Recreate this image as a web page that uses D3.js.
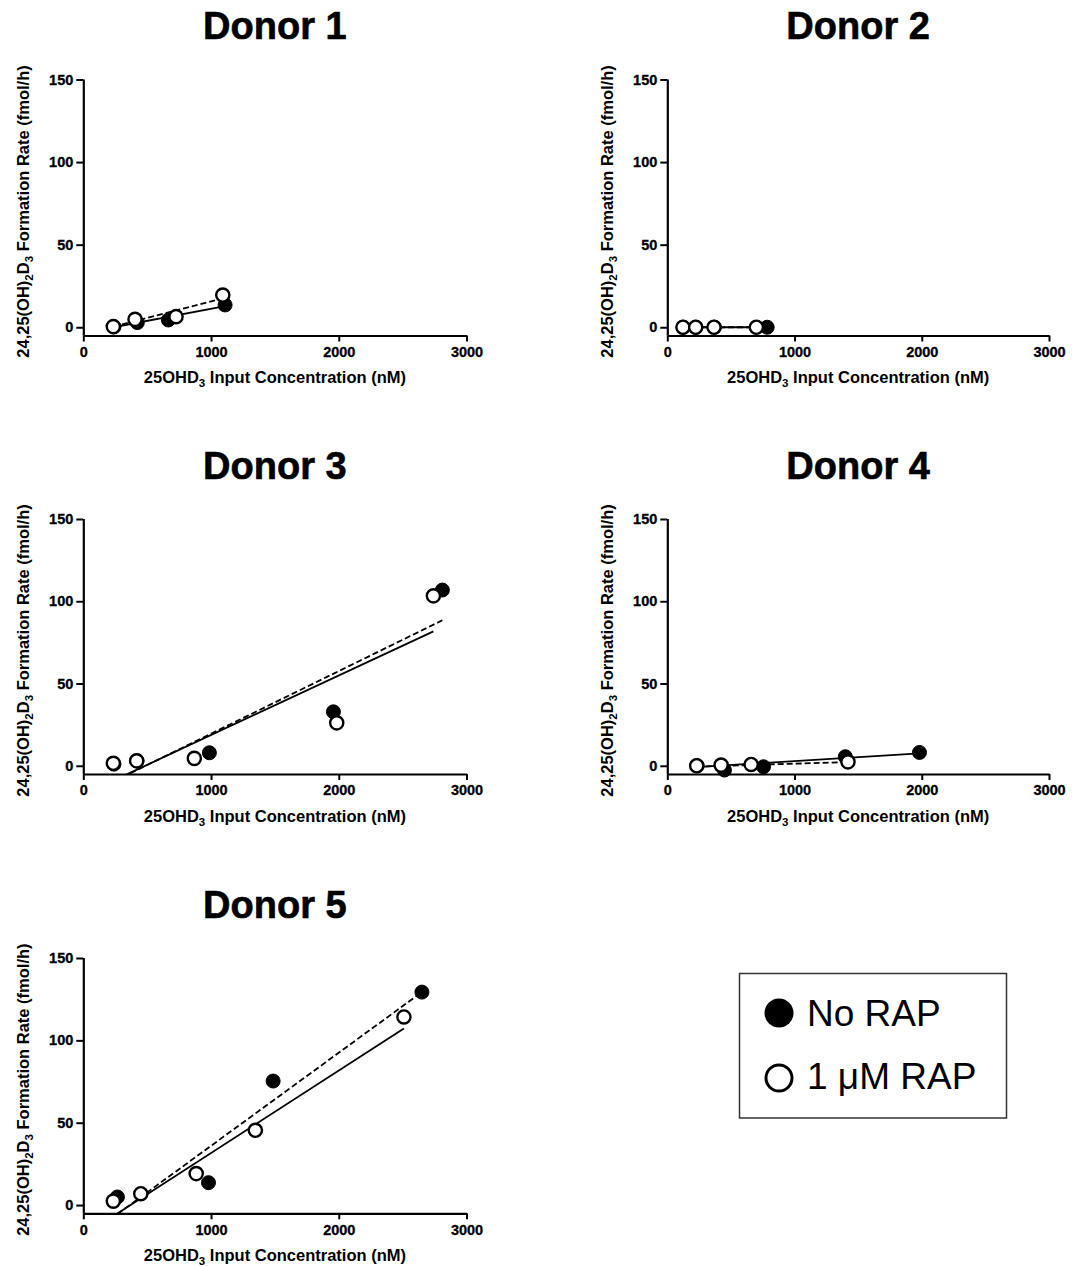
<!DOCTYPE html>
<html>
<head>
<meta charset="utf-8">
<script src="https://cdn.jsdelivr.net/npm/d3@7"></script>
<style>
  html, body { margin: 0; padding: 0; background: #fff; }
  svg { display: block; font-family: "Liberation Sans", Arial, sans-serif; }
</style>
</head>
<body>
<svg id="chart" width="1072" height="1266"></svg>
<script>
// ---------------- DATA ----------------
const donors = ["Donor 1", "Donor 2", "Donor 3", "Donor 4", "Donor 5"];

// No RAP (filled circles)
const noRapX = [
  [240, 423, 666, 1110],
  [125, 225, 370, 785],
  [240, 420, 987, 1958, 2811],
  [235, 449, 756, 1399, 1982],
  [267, 980, 1486, 2651]
];
const noRapY = [
  [0.2, 2.8, 4.4, 13.5],
  [0, 0, 0, 0],
  [1.0, 3.0, 7.9, 32.8, 106.8],
  [0.0, -2.6, -0.6, 5.5, 8.1],
  [4.9, 13.6, 75.3, 129.3]
];

// 1 µM RAP (open circles)
const rapX = [
  [235, 405, 726, 1092],
  [123, 223, 367, 700],
  [235, 418, 869, 1984, 2741],
  [231, 423, 659, 1420],
  [235, 450, 884, 1347, 2510]
];
const rapY = [
  [0.4, 4.8, 6.4, 19.5],
  [0, 0, 0, 0],
  [1.5, 3.0, 4.5, 26.1, 103.3],
  [0.0, 0.4, 0.8, 2.4],
  [2.4, 6.9, 19.1, 45.4, 114.2]
];

// Linear fit lines: [slope, intercept, xFrom, xTo]
const fitDashed = [
  [0.0198, -4.2, 235, 1092],
  [0, 0, 123, 700],
  [0.03806, -18.57, 240, 2811],
  [0.00227, -1.0, 231, 1420],
  [0.05655, -20.6, 267, 2651]
];
const fitSolid = [
  [0.01463, -3.44, 235, 1110],
  [0, 0, 123, 785],
  [0.03619, -17.53, 235, 2741],
  [0.00472, -1.85, 231, 1982],
  [0.0501, -18.5, 235, 2510]
];

const xTicks = [0, 1000, 2000, 3000];
const yTicks = [0, 50, 100, 150];
const xDomain = [0, 3000];
const yDomain = [-5, 150];
const legendLabels = ["No RAP", "1 \u03BCM RAP"];

// ---------------- LAYOUT ----------------
const svg = d3.select("#chart");
const colLeft = [83.3, 667.3];
const colRight = [466.5, 1049];
const rowTop = [79.5, 519, 958];
const rowBottom = [335.5, 774, 1213.3];
const fmt = d3.format("d");

donors.forEach((name, i) => {
  const col = i % 2, row = Math.floor(i / 2);
  const x = d3.scaleLinear().domain(xDomain).range([colLeft[col], colRight[col]]);
  const y = d3.scaleLinear().domain(yDomain).range([rowBottom[row], rowTop[row]]);
  const g = svg.append("g");
  const cx = (colLeft[col] + colRight[col]) / 2;

  // title
  g.append("text")
    .attr("x", cx).attr("y", rowTop[row] - 40.5)
    .attr("text-anchor", "middle")
    .attr("font-size", 38).attr("font-weight", "bold")
    .attr("stroke", "#000").attr("stroke-width", 0.6)
    .text(name);

  // clip
  const clipId = "clip" + i;
  g.append("clipPath").attr("id", clipId)
    .append("rect")
    .attr("x", x(xDomain[0])).attr("y", y(yDomain[1]) - 20)
    .attr("width", x(xDomain[1]) - x(xDomain[0]))
    .attr("height", y(yDomain[0]) - y(yDomain[1]) + 20);

  // axes
  const yAxis = d3.axisLeft(y).tickValues(yTicks).tickFormat(fmt).tickSize(7).tickPadding(3).tickSizeOuter(0);
  const xAxis = d3.axisBottom(x).tickValues(xTicks).tickFormat(fmt).tickSize(6).tickPadding(5).tickSizeOuter(0);

  const ga = g.append("g").attr("transform", `translate(${x(0)},0)`).call(yAxis);
  const gx = g.append("g").attr("transform", `translate(0,${y(yDomain[0])})`).call(xAxis);
  [ga, gx].forEach(a => {
    a.select(".domain").attr("stroke", "#000").attr("stroke-width", 2.2);
    a.selectAll(".tick line").attr("stroke", "#000").attr("stroke-width", 2);
    a.selectAll(".tick text").attr("fill", "#000")
      .attr("font-size", 14.5).attr("font-weight", "bold")
      .attr("stroke", "#000").attr("stroke-width", 0.3)
      .attr("font-family", '"Liberation Sans", Arial, sans-serif');
  });
  ga.select(".domain").attr("d", `M0.5,${y(yDomain[1])}V${y(yDomain[0])}`);

  // x label
  const xl = g.append("text")
    .attr("x", cx).attr("y", rowBottom[row] + 47.5)
    .attr("text-anchor", "middle")
    .attr("font-size", 16.5).attr("font-weight", "bold");
  xl.append("tspan").text("25OHD");
  xl.append("tspan").attr("dy", 4).attr("font-size", 11.5).text("3");
  xl.append("tspan").attr("dy", -4).text(" Input Concentration (nM)");

  // y label
  const ly = (rowTop[row] + rowBottom[row]) / 2 + 4;
  const yl = g.append("text")
    .attr("transform", `translate(${colLeft[col] - 54},${ly}) rotate(-90)`)
    .attr("text-anchor", "middle")
    .attr("font-size", 16.5).attr("font-weight", "bold");
  yl.append("tspan").text("24,25(OH)");
  yl.append("tspan").attr("dy", 4).attr("font-size", 11.5).text("2");
  yl.append("tspan").attr("dy", -4).text("D");
  yl.append("tspan").attr("dy", 4).attr("font-size", 11.5).text("3");
  yl.append("tspan").attr("dy", -4).text(" Formation Rate (fmol/h)");

  // fit lines
  const fg = g.append("g").attr("clip-path", `url(#${clipId})`);
  const line = d3.line().x(d => x(d[0])).y(d => y(d[1]));
  const seg = f => [[f[2], f[0] * f[2] + f[1]], [f[3], f[0] * f[3] + f[1]]];
  fg.append("path").datum(seg(fitSolid[i]))
    .attr("d", line).attr("fill", "none").attr("stroke", "#000").attr("stroke-width", 1.8);
  fg.append("path").datum(seg(fitDashed[i]))
    .attr("d", line).attr("fill", "none").attr("stroke", "#000").attr("stroke-width", 1.8)
    .attr("stroke-dasharray", "6,3");

  // points
  const filled = noRapX[i].map((v, k) => [v, noRapY[i][k]]);
  const open = rapX[i].map((v, k) => [v, rapY[i][k]]);
  g.append("g").selectAll("circle").data(filled).join("circle")
    .attr("cx", d => x(d[0])).attr("cy", d => y(d[1])).attr("r", 7)
    .attr("fill", "#000").attr("stroke", "#000").attr("stroke-width", 1);
  g.append("g").selectAll("circle").data(open).join("circle")
    .attr("cx", d => x(d[0])).attr("cy", d => y(d[1])).attr("r", 6.6)
    .attr("fill", "#fff").attr("stroke", "#000").attr("stroke-width", 2.4);
});

// ---------------- LEGEND ----------------
const lg = svg.append("g");
lg.append("rect").attr("x", 739.5).attr("y", 973.5).attr("width", 267).attr("height", 144.5)
  .attr("fill", "#fff").attr("stroke", "#333").attr("stroke-width", 1.5);
lg.append("circle").attr("cx", 779).attr("cy", 1013).attr("r", 14.5).attr("fill", "#000");
lg.append("circle").attr("cx", 779).attr("cy", 1078).attr("r", 13).attr("fill", "#fff")
  .attr("stroke", "#000").attr("stroke-width", 3);
lg.selectAll("text.lab").data(legendLabels).join("text").attr("class", "lab")
  .attr("x", 807).attr("y", (d, k) => k === 0 ? 1026 : 1089)
  .attr("font-size", 37).attr("fill", "#000")
  .text(d => d);
</script>
</body>
</html>
